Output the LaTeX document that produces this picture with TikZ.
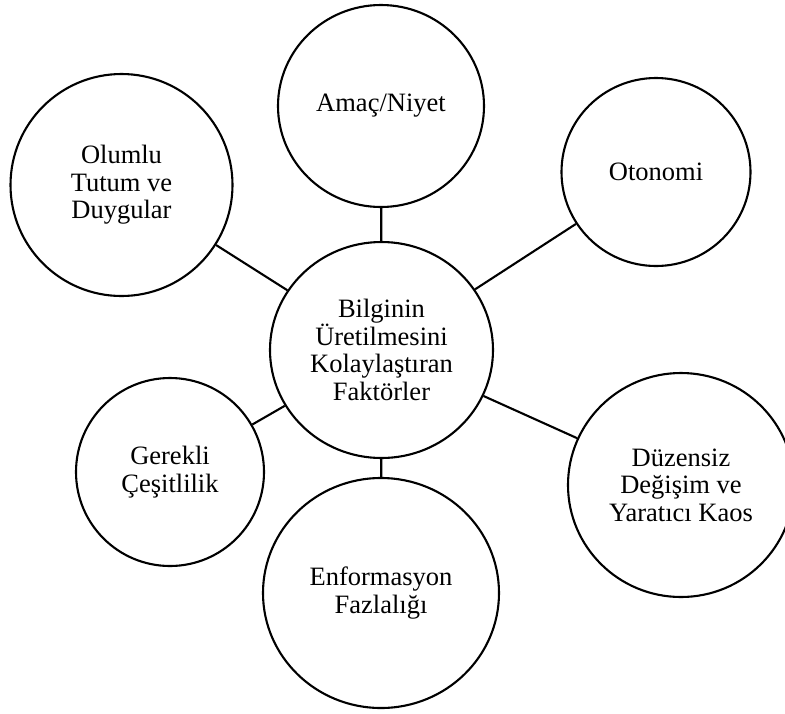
\documentclass[tikz,border=0pt]{standalone}
\usepackage{fontspec}
\setmainfont{Liberation Serif}
\usetikzlibrary{shapes.geometric}
\tikzset{
  factor/.style={ellipse, draw=black, line width=2.1pt, inner sep=0pt,
    align=center, font=\fontsize{26.5}{27.5}\selectfont},
  link/.style={line width=2.1pt, draw=black}
}
\begin{document}
\begin{tikzpicture}[x=1pt, y=-1pt]
  \useasboundingbox (0,0) rectangle (785,713);
  \clip (0,0) rectangle (785,713);
  \node[factor, minimum width=223pt, minimum height=216pt] (core) at (381.5,350)
    {Bilginin\\Üretilmesini\\Kolaylaştıran\\Faktörler};
  \node[factor, minimum width=206pt, minimum height=202pt] (amac) at (381,106)
    {Amaç/Niyet};
  \node[factor, minimum width=189pt, minimum height=188pt] (oto) at (656,172)
    {Otonomi};
  \node[factor, minimum width=222pt, minimum height=222pt] (olumlu) at (121.5,185)
    {Olumlu\\Tutum ve\\Duygular};
  \node[factor, minimum width=188pt, minimum height=188pt] (gerekli) at (170,472)
    {Gerekli\\Çeşitlilik};
  \node[factor, minimum width=236pt, minimum height=230pt] (enf) at (381,593)
    {Enformasyon\\Fazlalığı};
  \node[factor, minimum width=226pt, minimum height=224pt] (duz) at (681,485)
    {Düzensiz\\Değişim ve\\Yaratıcı Kaos};
  \draw[link] (core) -- (amac);
  \draw[link] (core) -- (oto);
  \draw[link] (core) -- (olumlu);
  \draw[link] (core) -- (gerekli);
  \draw[link] (core) -- (enf);
  \draw[link] (core) -- (duz);
\end{tikzpicture}
\end{document}
